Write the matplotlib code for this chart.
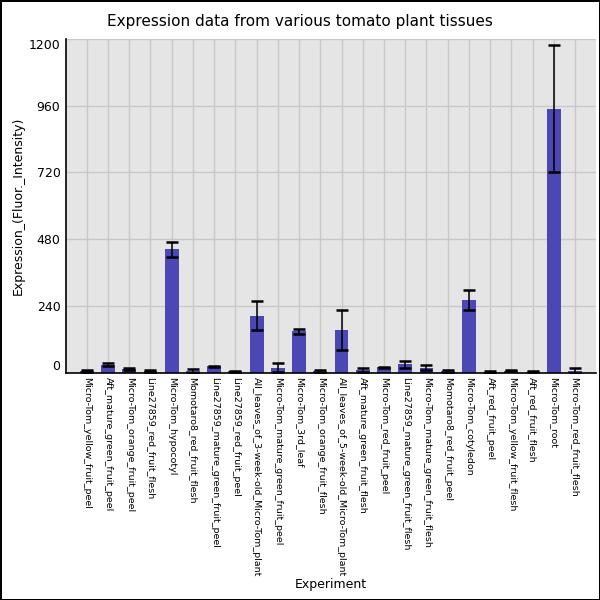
import numpy as np
import matplotlib
matplotlib.use("Agg")
import matplotlib.pyplot as plt

# tissues in the order they appear on the x axis
tissues = [
    "Micro-Tom_yellow_fruit_peel",
    "Aft_mature_green_fruit_peel",
    "Micro-Tom_orange_fruit_peel",
    "Line27859_red_fruit_flesh",
    "Micro-Tom_hypocotyl",
    "Momotaro8_red_fruit_flesh",
    "Line27859_mature_green_fruit_peel",
    "Line27859_red_fruit_peel",
    "All_leaves_of_3-week-old_Micro-Tom_plant",
    "Micro-Tom_mature_green_fruit_peel",
    "Micro-Tom_3rd_leaf",
    "Micro-Tom_orange_fruit_flesh",
    "All_leaves_of_5-week-old_Micro-Tom_plant",
    "Aft_mature_green_fruit_flesh",
    "Micro-Tom_red_fruit_peel",
    "Line27859_mature_green_fruit_flesh",
    "Micro-Tom_mature_green_fruit_flesh",
    "Momotaro8_red_fruit_peel",
    "Micro-Tom_cotyledon",
    "Aft_red_fruit_peel",
    "Micro-Tom_yellow_fruit_flesh",
    "Aft_red_fruit_flesh",
    "Micro-Tom_root",
    "Micro-Tom_red_fruit_flesh",
]
# mean expression and error
means = [6, 29, 13, 6, 443, 6, 22, 5, 205, 18, 148, 5,
         153, 10, 19, 30, 18, 4, 260, 2, 6, 3, 950, 6]
errors = [3, 6, 3, 5, 28, 8, 2, 2, 51, 15, 10, 6,
          72, 8, 2, 12, 10, 5, 36, 2, 2, 2, 230, 11]
yticks = [0, 240, 480, 720, 960, 1200]

fig = plt.figure(figsize=(6, 6), dpi=100)
fig.patch.set_edgecolor("black")
fig.patch.set_linewidth(1.0)
ax = fig.add_axes([0.11, 0.379, 0.883, 0.556])
ax.set_facecolor("#e5e5e5")

x = np.arange(len(tissues))
ax.bar(x, means, width=0.65, color="#4b47b5", zorder=2)
ax.errorbar(x, means, yerr=errors, fmt="none", ecolor="black",
            elinewidth=1.1, capsize=4.5, capthick=1.8, zorder=3)

ax.set_xlim(-0.98, len(tissues) - 0.02)
ax.set_ylim(0, 1200)
ax.set_yticks(yticks)
ax.set_yticklabels([str(t) for t in yticks])
# end labels sit inside the axis range like in the original
labs = ax.get_yticklabels()
labs[0].set_va("bottom")
labs[-1].set_va("top")
ax.set_xticks(x)
ax.set_xticklabels(tissues, rotation=-90, fontsize=6.8, va="top")
ax.tick_params(axis="both", length=0)
ax.tick_params(axis="y", pad=4, labelsize=9)
ax.tick_params(axis="x", pad=3)

ax.grid(True, color="#c8c8c8", linewidth=1.0, zorder=0)
ax.set_axisbelow(True)
for s in ["top", "right"]:
    ax.spines[s].set_visible(False)
ax.spines["left"].set_linewidth(1.2)
ax.spines["bottom"].set_linewidth(1.2)

ax.set_xlabel("Experiment", fontsize=9, labelpad=1)
ax.set_ylabel("Expression_(Fluor._Intensity)", fontsize=9, labelpad=3)
fig.suptitle("Expression data from various tomato plant tissues", fontsize=11, y=0.977)

fig.savefig("out.png", dpi=100, edgecolor=fig.get_edgecolor())
